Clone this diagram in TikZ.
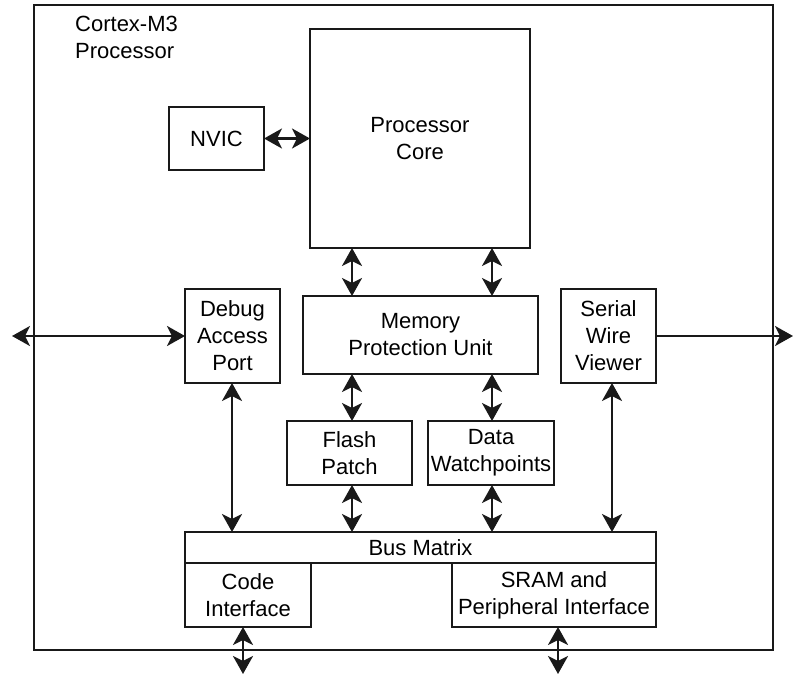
\documentclass[tikz,border=0pt]{standalone}
\usepackage{fontspec}
\setmainfont{Liberation Sans}
\usetikzlibrary{arrows.meta}
\begin{document}
\begin{tikzpicture}[x=1pt,y=-1pt,
  box/.style={draw=black!90,line width=1.4pt,inner sep=0pt,outer sep=0pt,align=center,
    font=\fontsize{22}{27}\selectfont},
  dbl/.style={{Stealth[length=18pt,width=20pt,inset=5pt]}-{Stealth[length=18pt,width=20pt,inset=5pt]},line width=2.8pt,black!90},
  sgl/.style={-{Stealth[length=18pt,width=20pt,inset=5pt]},line width=2.8pt,black!90}]
\useasboundingbox (0,0) rectangle (794,674);
\node[box,minimum width=739pt,minimum height=645pt] (cm3) at (403.5,327.5) {};
\node[anchor=north west,inner sep=0pt,align=left,font=\fontsize{22}{27}\selectfont] (lbl) at (75,16) {Cortex-M3\\Processor};
\node[box,minimum width=95pt,minimum height=63pt] (nvic) at (216.5,138.5) {NVIC};
\node[box,minimum width=220pt,minimum height=219pt] (core) at (420,138.5) {Processor\\Core};
\node[box,minimum width=235pt,minimum height=78pt] (mpu) at (420.5,335) {Memory\\Protection Unit};
\node[box,minimum width=95pt,minimum height=94pt] (dap) at (232.5,336) {Debug\\Access\\Port};
\node[box,minimum width=95pt,minimum height=94pt] (swv) at (608.5,336) {Serial\\Wire\\Viewer};
\node[box,minimum width=125pt,minimum height=64pt] (flash) at (349.5,453) {Flash\\Patch};
\node[box,minimum width=126pt,minimum height=64pt] (data) at (491,453) {Data\\Watchpoints};
\node[box,minimum width=471pt,minimum height=31pt] (bus) at (420.5,547.5) {Bus Matrix};
\node[box,minimum width=126pt,minimum height=64pt] (code) at (248,595) {Code\\Interface};
\node[box,minimum width=204pt,minimum height=64pt] (sram) at (554,595) {SRAM and\\Peripheral Interface};
\coordinate (xa) at (352,0);
\coordinate (xb) at (492,0);
\coordinate (xd) at (232,0);
\coordinate (xs) at (612,0);
\coordinate (lext) at (12,336);
\coordinate (rext) at (793,336);
\coordinate (cext) at (243,674);
\coordinate (sext) at (558,674);
\draw[dbl] (nvic.east) -- (core.west |- nvic.east);
\draw[dbl] (core.south -| xa) -- (mpu.north -| xa);
\draw[dbl] (core.south -| xb) -- (mpu.north -| xb);
\draw[dbl] (mpu.south -| xa) -- (flash.north -| xa);
\draw[dbl] (mpu.south -| xb) -- (data.north -| xb);
\draw[dbl] (flash.south -| xa) -- (bus.north -| xa);
\draw[dbl] (data.south -| xb) -- (bus.north -| xb);
\draw[dbl] (dap.south -| xd) -- (bus.north -| xd);
\draw[dbl] (swv.south -| xs) -- (bus.north -| xs);
\draw[dbl] (lext) -- (dap.west);
\draw[sgl] (swv.east) -- (rext);
\draw[dbl] (code.south -| cext) -- (cext);
\draw[dbl] (sram.south -| sext) -- (sext);
\end{tikzpicture}
\end{document}
